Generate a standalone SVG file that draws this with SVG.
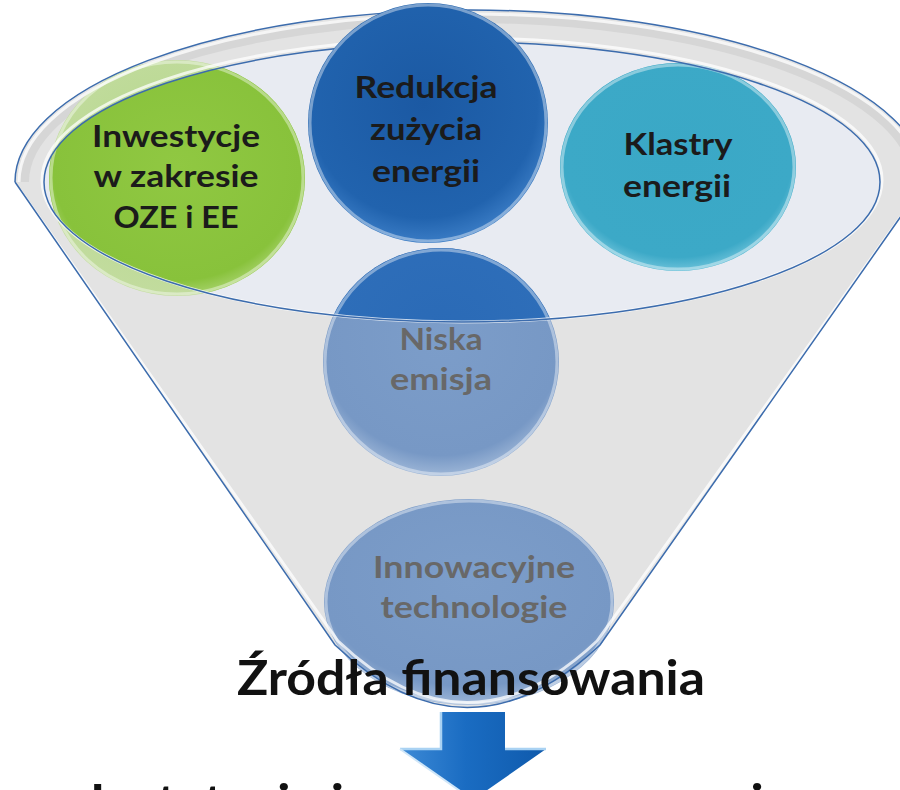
<svg xmlns="http://www.w3.org/2000/svg" width="900" height="790" viewBox="0 0 900 790">
<defs>
  <style>
    .t{font-family:Lato,"Open Sans","Liberation Sans",sans-serif;font-weight:700;text-anchor:middle}
    .dk{fill:#1b1b1b;font-size:31px}
    .gr{fill:#686868;font-size:31px}
    .ttl{fill:#111111;font-size:48px}
    .edge{fill:none;stroke:#3c6cad;stroke-width:1.5}
    .hl{fill:none;stroke:#ffffff;stroke-opacity:.75;stroke-width:3}
    .bev{fill:none;stroke:#ffffff;stroke-opacity:.4;stroke-width:3}
  </style>
  <clipPath id="opening"><ellipse cx="462" cy="182" rx="418" ry="140"/></clipPath>
  <radialGradient id="gGreen" cx="50%" cy="45%" r="55%">
    <stop offset="0" stop-color="#90c842"/><stop offset=".88" stop-color="#88c23b"/><stop offset="1" stop-color="#a6d26a"/>
  </radialGradient>
  <radialGradient id="gGreenW" cx="50%" cy="45%" r="55%">
    <stop offset="0" stop-color="#b4d68a"/><stop offset="1" stop-color="#c2dc9e"/>
  </radialGradient>
  <radialGradient id="gBlue" cx="48%" cy="42%" r="58%">
    <stop offset="0" stop-color="#1b59a3"/><stop offset=".82" stop-color="#2163ae"/><stop offset="1" stop-color="#3a7cc5"/>
  </radialGradient>
  <radialGradient id="gTeal" cx="50%" cy="45%" r="55%">
    <stop offset="0" stop-color="#3aa8c6"/><stop offset=".88" stop-color="#3ca9c7"/><stop offset="1" stop-color="#6cc2da"/>
  </radialGradient>
  <radialGradient id="gTealW" cx="50%" cy="45%" r="55%">
    <stop offset="0" stop-color="#86c4d6"/><stop offset="1" stop-color="#a4d3e0"/>
  </radialGradient>
  <radialGradient id="gNiskaD" cx="50%" cy="40%" r="60%">
    <stop offset="0" stop-color="#2a6ab6"/><stop offset="1" stop-color="#2f6fba"/>
  </radialGradient>
  <radialGradient id="gWash" cx="50%" cy="40%" r="60%">
    <stop offset="0" stop-color="#7c9dc9"/><stop offset=".85" stop-color="#7798c5"/><stop offset="1" stop-color="#9db6d7"/>
  </radialGradient>
  <linearGradient id="gArrow" x1="0" y1="0" x2="1" y2="0">
    <stop offset="0" stop-color="#3d8ad6"/><stop offset=".45" stop-color="#1a6cc2"/><stop offset="1" stop-color="#0f5aac"/>
  </linearGradient>
</defs>

<rect width="900" height="790" fill="#ffffff"/>

<g id="funnel">
  <path d="M15,182 A455,172 0 0 1 925,182 L600,645 Q467,770 335,645 Z" fill="#e3e3e3"/>
  <path d="M24,182 A446,164 0 0 1 916,182" fill="none" stroke="#d6d6d6" stroke-width="10"/>
  <ellipse cx="462" cy="182" rx="418" ry="140" fill="#e8ebf2"/>
</g>

<g id="node-oze">
  <ellipse cx="177" cy="178" rx="128" ry="118" fill="url(#gGreenW)"/>
  <ellipse cx="177" cy="178" rx="128" ry="118" fill="url(#gGreen)" clip-path="url(#opening)"/>
  <ellipse cx="177" cy="178" rx="126" ry="116" class="bev"/>
  <text class="t dk" x="176" y="147" textLength="168" lengthAdjust="spacingAndGlyphs">Inwestycje</text>
  <text class="t dk" x="176" y="187" textLength="165" lengthAdjust="spacingAndGlyphs">w zakresie</text>
  <text class="t dk" x="176" y="228" textLength="125" lengthAdjust="spacingAndGlyphs">OZE i EE</text>
</g>

<g id="node-klastry">
  <ellipse cx="678" cy="167" rx="118" ry="104" fill="url(#gTealW)"/>
  <ellipse cx="678" cy="167" rx="118" ry="104" fill="url(#gTeal)" clip-path="url(#opening)"/>
  <ellipse cx="678" cy="167" rx="116" ry="102" class="bev"/>
  <text class="t dk" x="678" y="155" textLength="109" lengthAdjust="spacingAndGlyphs">Klastry</text>
  <text class="t dk" x="677" y="197" textLength="108" lengthAdjust="spacingAndGlyphs">energii</text>
</g>

<g id="node-niska">
  <ellipse cx="441" cy="362" rx="118" ry="114" fill="url(#gWash)"/>
  <ellipse cx="441" cy="362" rx="118" ry="114" fill="url(#gNiskaD)" clip-path="url(#opening)"/>
  <ellipse cx="441" cy="362" rx="116" ry="112" class="bev"/>
  <text class="t gr" x="441" y="350" textLength="83" lengthAdjust="spacingAndGlyphs">Niska</text>
  <text class="t gr" x="441" y="390" textLength="102" lengthAdjust="spacingAndGlyphs">emisja</text>
</g>

<g id="node-innowacyjne">
  <ellipse cx="469" cy="602" rx="145" ry="103" fill="url(#gWash)"/>
  <ellipse cx="469" cy="602" rx="143" ry="101" class="bev"/>
  <text class="t gr" x="474" y="578" textLength="202" lengthAdjust="spacingAndGlyphs">Innowacyjne</text>
  <text class="t gr" x="474" y="618" textLength="187" lengthAdjust="spacingAndGlyphs">technologie</text>
</g>

<g id="funnel-edges">
  <path d="M19,182 A451,168 0 0 1 921,182" class="hl"/>
  <path d="M15,182 A455,172 0 0 1 925,182" class="edge"/>
  <ellipse cx="462" cy="180" rx="420" ry="142" class="hl"/>
  <ellipse cx="462" cy="182" rx="418" ry="140" class="edge"/>
  <path d="M20,190 L338,641 Q467,764 597,641 L920,190" class="hl"/>
  <path d="M15,182 L335,645 Q467,770 600,645 L925,182" class="edge"/>
</g>

<g id="node-redukcja">
  <circle cx="428" cy="123" r="120" fill="url(#gBlue)"/>
  <circle cx="428" cy="123" r="118" class="bev"/>
  <text class="t dk" x="426" y="98" textLength="143" lengthAdjust="spacingAndGlyphs">Redukcja</text>
  <text class="t dk" x="426" y="140" textLength="112" lengthAdjust="spacingAndGlyphs">zużycia</text>
  <text class="t dk" x="426" y="182" textLength="108" lengthAdjust="spacingAndGlyphs">energii</text>
</g>

<g id="node-zrodla">
  <text class="t ttl" x="471" y="695" textLength="468" lengthAdjust="spacingAndGlyphs">Źródła finansowania</text>
</g>

<g id="connectors">
  <path d="M441,712 L505,712 L505,749 L546,749 L473,800 L400,749 L441,749 Z" fill="url(#gArrow)"/>
  <path d="M400,749 L441,749 L441,712 M505,749 L546,749" fill="none" stroke="#a9d2f3" stroke-width="2.5"/>
  <path d="M400,749 L473,800" fill="none" stroke="#cfe6f8" stroke-width="2"/>
</g>

<g id="node-bottom">
  <text class="t ttl" x="440" y="819" textLength="700" lengthAdjust="spacingAndGlyphs">Instytucje i programy wsparcia</text>
</g>
</svg>
